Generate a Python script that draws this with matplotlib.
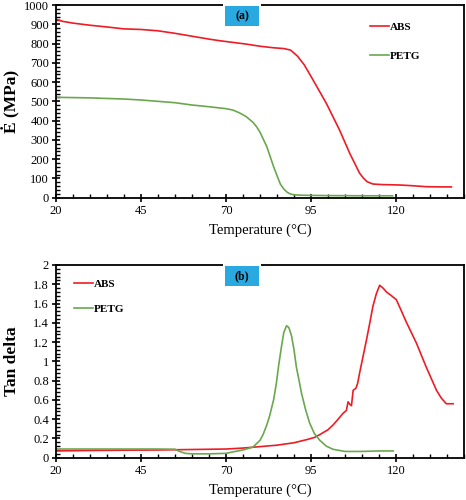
import matplotlib.pyplot as plt
from matplotlib.patches import Rectangle
from matplotlib.ticker import MultipleLocator

plt.rcParams['font.family'] = ['Liberation Serif', 'DejaVu Serif']

# (a) storage modulus
t_abs_a = [20, 22, 25, 30, 35, 40, 45, 50, 55, 58, 62, 65, 68, 72, 76, 80, 84, 87, 89, 91,
           93, 95.6, 99.5, 103.4, 106.4, 109.3, 110.5, 111.5, 113.2, 116, 121, 125, 129,
           133, 136.3]
e_abs = [926, 915, 906, 895, 886, 876, 873, 866, 853, 844, 832, 823, 815, 806, 797, 786,
         778, 774, 766, 735, 690, 611, 490, 351, 230, 127, 100, 83, 71, 68, 66, 62, 57,
         56, 56]
t_petg_a = [20, 30, 40, 45, 50, 55, 60, 65, 70, 72, 74, 76, 78, 79, 80, 82, 84, 85, 86,
            87, 88, 89, 90, 92, 95, 100, 110, 119]
e_petg = [521, 518, 512, 507, 500, 493, 481, 472, 462, 455, 440, 420, 390, 368, 340, 265,
          161, 115, 70, 45, 28, 19, 15, 13, 12, 11, 10, 10]

# (b) tan delta
t_abs_b = [20, 30, 40, 50, 60, 70, 75, 80, 85, 90, 94, 96, 97.6, 100, 101.5, 103, 104.4,
           105.4, 105.9, 106.5, 106.9, 107.4, 108.2, 108.7, 109.3, 110.3, 111.3, 112.3,
           113.2, 114.2, 115.2, 116.2, 117.2, 118.7, 120.1, 121.5, 123, 124.5, 126, 127.5,
           128.9, 130.4, 131.9, 133.3, 134.8, 136.8]
tan_abs = [0.07, 0.075, 0.078, 0.08, 0.085, 0.09, 0.1, 0.115, 0.13, 0.155, 0.19, 0.21,
           0.24, 0.29, 0.34, 0.4, 0.46, 0.49, 0.58, 0.55, 0.54, 0.70, 0.72, 0.77, 0.88,
           1.05, 1.22, 1.40, 1.57, 1.70, 1.79, 1.76, 1.72, 1.68, 1.64, 1.53, 1.41, 1.30,
           1.19, 1.06, 0.94, 0.82, 0.70, 0.62, 0.56, 0.56]
t_petg_b = [20, 30, 40, 50, 55, 56, 58, 60, 65, 70, 72, 75, 77.9, 80, 80.9, 82, 82.8, 84,
            84.8, 85.5, 86.3, 87, 87.8, 88.5, 89.3, 90, 90.7, 91.5, 92.2, 93.4, 94.6, 96,
            97.6, 99.5, 101.5, 105, 110, 115, 119.2]
tan_petg = [0.09, 0.09, 0.09, 0.09, 0.088, 0.07, 0.045, 0.04, 0.04, 0.045, 0.06, 0.08,
            0.11, 0.18, 0.24, 0.34, 0.43, 0.6, 0.77, 0.96, 1.15, 1.30, 1.37, 1.35, 1.26,
            1.12, 0.94, 0.80, 0.67, 0.5, 0.36, 0.25, 0.18, 0.12, 0.087, 0.065, 0.065, 0.07,
            0.07]

RED = '#ee1c25'
GREEN = '#6aa84f'
BOX = '#29a9e0'

fig = plt.figure(figsize=(4.66, 5.0), dpi=100)
ax1 = fig.add_axes([56 / 466, 0.6046, 408 / 466, 0.3854])
ax2 = fig.add_axes([56 / 466, 0.0846, 408 / 466, 0.3854])


def style(ax, ymax, ystep, yminor):
    ax.set_xlim(20, 140)
    ax.set_ylim(0, ymax)
    ax.set_xticks([20, 45, 70, 95, 120])
    ax.xaxis.set_minor_locator(MultipleLocator(5))
    ax.yaxis.set_major_locator(MultipleLocator(ystep))
    ax.yaxis.set_minor_locator(MultipleLocator(yminor))
    ax.tick_params(which='major', direction='inout', length=6, width=1.2,
                   labelsize=9, pad=2)
    ax.tick_params(which='minor', direction='in', length=3, width=1)
    ax.tick_params(top=False, right=False)
    for s in ax.spines.values():
        s.set_linewidth(1.3)
    ax.set_xlabel('Temperature (°C)', fontsize=10.5)
    ax.xaxis.set_label_coords(0.5, -0.135)
    ax.yaxis.set_label_coords(-0.088, 0.5)


ax1.plot(t_abs_a, e_abs, color=RED, lw=1.2, label='ABS')
ax1.plot(t_petg_a, e_petg, color=GREEN, lw=1.2, label='PETG')
style(ax1, 1000, 100, 20)
ax1.set_ylabel('Ė (MPa)', fontsize=12.5, fontweight='bold')
ax1.legend(loc='upper right', bbox_to_anchor=(0.918, 0.964), frameon=False,
           handlelength=1.7, handletextpad=0.1, labelspacing=1.77,
           prop={'weight': 'bold', 'size': 8})

ax2.plot(t_abs_b, tan_abs, color=RED, lw=1.2, label='ABS')
ax2.plot(t_petg_b, tan_petg, color=GREEN, lw=1.2, label='PETG')
style(ax2, 2, 0.2, 0.04)
ax2.set_yticks([0, 0.2, 0.4, 0.6, 0.8, 1, 1.2, 1.4, 1.6, 1.8, 2])
ax2.set_yticklabels(['0', '0.2', '0.4', '0.6', '0.8', '1', '1.2', '1.4', '1.6', '1.8', '2'])
ax2.set_ylabel('Tan delta', fontsize=12.5, fontweight='bold')
ax2.legend(loc='upper left', bbox_to_anchor=(0.02, 0.98), frameon=False,
           handlelength=1.7, handletextpad=0.1, labelspacing=1.41,
           prop={'weight': 'bold', 'size': 8})

# panel tags sitting on the top spine
for ax, tag in [(ax1, '(a)'), (ax2, '(b)')]:
    x0 = (225 - 56) / 408
    w = 34 / 408
    ax.add_patch(Rectangle((x0 - 0.005, 0.985), w + 0.01, 0.03, transform=ax.transAxes,
                           facecolor='white', edgecolor='none', clip_on=False, zorder=5))
    ax.add_patch(Rectangle((x0, 0.89), w, 0.105, transform=ax.transAxes,
                           facecolor=BOX, edgecolor='none', clip_on=False, zorder=6))
    ax.text(x0 + w / 2, 0.942, tag, transform=ax.transAxes, ha='center', va='center',
            fontsize=8.5, fontweight='bold', zorder=7)

fig.savefig('out.png', dpi=100)
